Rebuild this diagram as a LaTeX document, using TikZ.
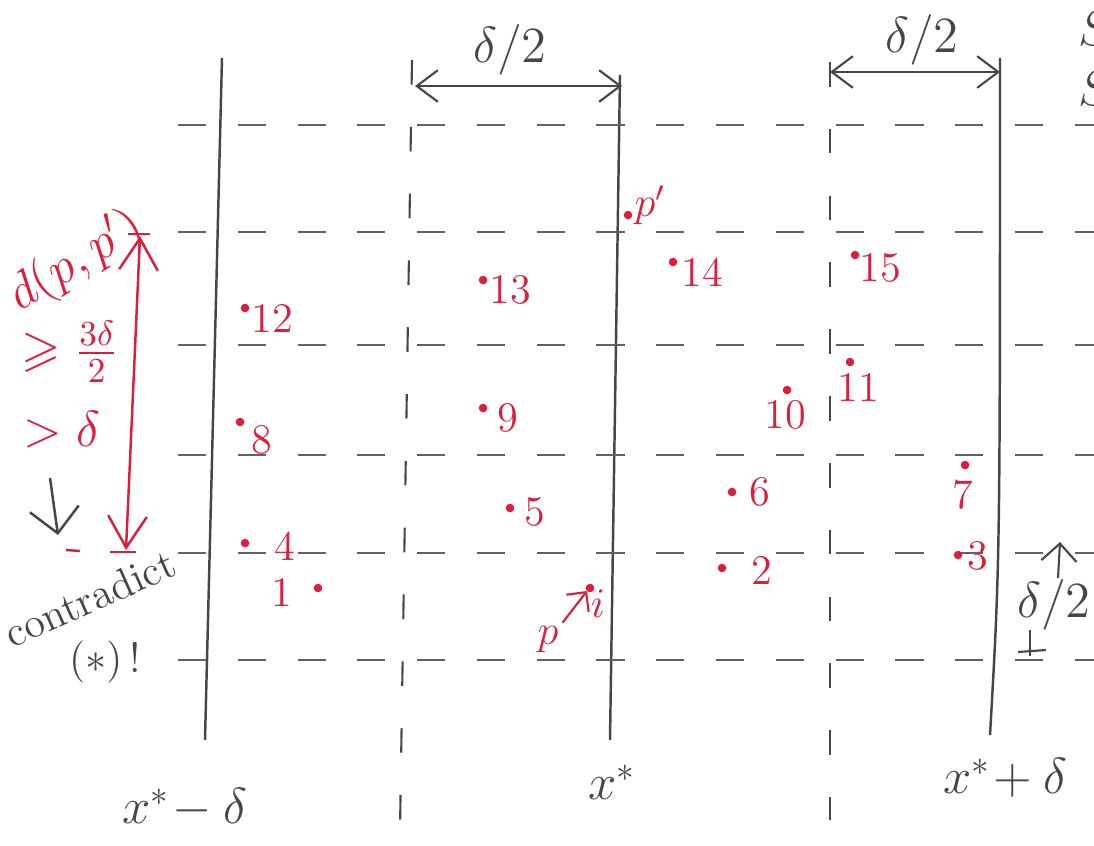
\documentclass[tikz,border=0pt]{standalone}
\usepackage{amsmath,amssymb}
\usepackage{xcolor}
\usetikzlibrary{arrows.meta,positioning}
\definecolor{penred}{RGB}{220,30,60}
\definecolor{pengrey}{RGB}{70,70,70}
\tikzset{
  strip/.style={draw=pengrey, line width=0.7pt},
  halfstrip/.style={draw=pengrey, line width=0.6pt, dash pattern=on 7pt off 12pt},
  gridrow/.style={draw=pengrey!85, line width=0.55pt, dash pattern=on 8pt off 9pt},
  dot/.style={circle, draw=penred, fill=penred, inner sep=0pt, minimum size=2pt},
  dotlab/.style={text=penred, font=\large, inner sep=1pt},
  redtxt/.style={text=penred, font=\Large},
  inktxt/.style={text=pengrey, font=\Large},
  dimarr/.style={{Straight Barb[length=6pt,width=9pt]}-{Straight Barb[length=6pt,width=9pt]}, draw=pengrey, line width=0.6pt},
  redarr/.style={{Straight Barb[length=9pt,width=11pt]}-{Straight Barb[length=9pt,width=11pt]}, draw=penred, line width=0.7pt},
}
\begin{document}
\begin{tikzpicture}[x=0.01cm, y=-0.01cm]
  \useasboundingbox (0,0) rectangle (1094,845);

  % strip boundaries
  \coordinate (lefttop) at (222,58);   \coordinate (leftbot) at (205,740);
  \coordinate (midtop)  at (620,75);   \coordinate (midbot)  at (610,740);
  \coordinate (righttop) at (1000,58); \coordinate (rightbot) at (990,735);
  \draw[strip] (lefttop) -- (leftbot);
  \draw[strip] (midtop) -- (midbot);
  \draw[strip] (righttop) .. controls (1000,560) .. (rightbot);
  \coordinate (h1top) at (412,60);  \coordinate (h1bot) at (400,830);
  \coordinate (h2top) at (830,62);  \coordinate (h2bot) at (830,820);
  \draw[halfstrip] (h1top) -- (h1bot);
  \draw[halfstrip] (h2top) -- (h2bot);

  % boxes of side delta/2
  \foreach \y in {125,232,345,455,553,660}
    \draw[gridrow] (178,\y) -- (1094,\y);

  % widths
  \coordinate (w1a) at (415,86);  \coordinate (w1b) at (622,86);
  \coordinate (w2a) at (830,72);  \coordinate (w2b) at (1000,72);
  \draw[dimarr] (w1a) -- (w1b);
  \draw[dimarr] (w2a) -- (w2b);
  \node[inktxt] (w1) at (510,50) {$\delta/2$};
  \node[inktxt] (w2) at (922,40) {$\delta/2$};
  \node[inktxt, anchor=west] (s1) at (1066,28) {$S$};
  \node[inktxt, anchor=west] (s2) at (1066,88) {$S$};

  % points
  \node[dot] (pp)  at (628,215) {};  \node[dotlab] (lpp)  at (650,205) {$p'$};
  \node[dot] (p14) at (673,262) {};  \node[dotlab] (l14) at (702,272) {14};
  \node[dot] (p15) at (855,255) {};  \node[dotlab] (l15) at (880,268) {15};
  \node[dot] (p13) at (483,280) {};  \node[dotlab] (l13) at (510,290) {13};
  \node[dot] (p12) at (245,308) {};  \node[dotlab] (l12) at (272,318) {12};
  \node[dot] (p11) at (850,362) {};  \node[dotlab] (l11) at (858,387) {11};
  \node[dot] (p10) at (787,390) {};  \node[dotlab] (l10) at (785,415) {10};
  \node[dot] (p9)  at (483,408) {};  \node[dotlab] (l9)  at (508,418) {9};
  \node[dot] (p8)  at (240,422) {};  \node[dotlab] (l8)  at (262,440) {8};
  \node[dot] (p7)  at (965,465) {};  \node[dotlab] (l7)  at (963,495) {7};
  \node[dot] (p6)  at (732,492) {};  \node[dotlab] (l6)  at (760,492) {6};
  \node[dot] (p5)  at (510,508) {};  \node[dotlab] (l5)  at (535,512) {5};
  \node[dot] (p4)  at (245,543) {};  \node[dotlab] (l4)  at (285,546) {4};
  \node[dot] (p3)  at (958,555) {};  \node[dotlab] (l3)  at (978,556) {3};
  \node[dot] (p2)  at (722,568) {};  \node[dotlab] (l2)  at (762,570) {2};
  \node[dot] (p1)  at (318,588) {};  \node[dotlab] (l1)  at (282,592) {1};
  \node[dot] (pi)  at (590,588) {};  \node[dotlab] (li)  at (598,604) {$i$};
  \node[dotlab] (lp) at (548,640) {$p$};
  \draw[-{Straight Barb[length=4pt]}, draw=penred, line width=0.6pt] (lp.north east) -- (pi.south west);

  % distance between p and p'
  \coordinate (dtop) at (140,236); \coordinate (dbot) at (126,550);
  \draw[redarr] (dtop) -- (dbot);
  \draw[draw=penred, line width=0.7pt] (128,234) -- (150,234);
  \draw[draw=penred, line width=0.7pt] (110,552) -- (136,552);
  \draw[draw=penred, line width=0.7pt] (66,550) -- (80,551);
  \node[redtxt, rotate=32] (dist) at (76,262) {$d(p,p')$};
  \node[redtxt] (ge) at (70,352) {$\geqslant\frac{3\delta}{2}$};
  \node[redtxt] (gt) at (62,430) {$>\delta$};
  \coordinate (ctop) at (50,478); \coordinate (cbot) at (58,535);
  \draw[-{Straight Barb[length=7pt]}, draw=pengrey, line width=0.7pt] (ctop) -- (cbot);
  \node[text=pengrey, font=\large, rotate=24] (contra) at (90,598) {contradict};
  \node[text=pengrey, font=\large] (star) at (105,662) {$(*)$\,!};

  % box height
  \node[inktxt] (hh) at (1054,605) {$\delta/2$};
  \coordinate (hhtop) at (1060,542); \coordinate (hhbot) at (1058,578);
  \draw[-{Straight Barb[length=5pt]}, draw=pengrey, line width=0.6pt] (hhbot) -- (hhtop);
  \draw[draw=pengrey, line width=0.6pt] (1030,630) -- (1030,656);
  \draw[draw=pengrey, line width=0.6pt] (1018,652) -- (1046,650);

  % abscissas
  \node[inktxt] (xl) at (185,808) {$x^*\!-\delta$};
  \node[inktxt] (xm) at (612,782) {$x^*$};
  \node[inktxt] (xr) at (1005,778) {$x^*\!+\delta$};
\end{tikzpicture}
\end{document}
